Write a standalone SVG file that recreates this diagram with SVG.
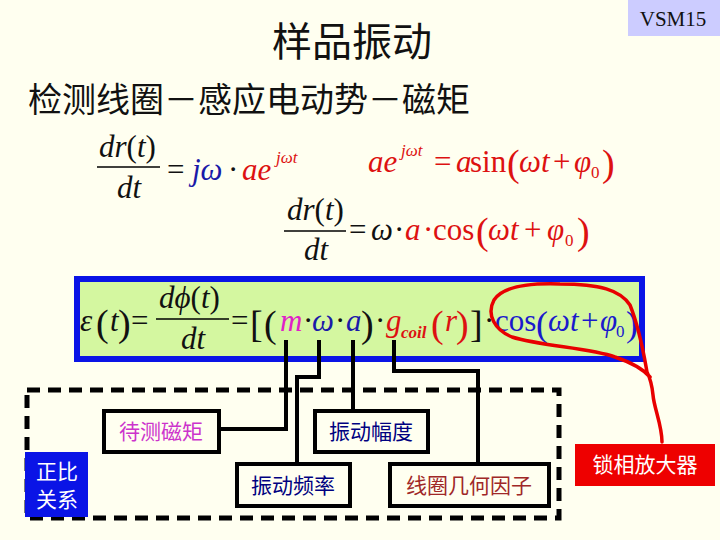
<svg xmlns="http://www.w3.org/2000/svg" width="720" height="540" viewBox="0 0 720 540">
<style>
.cn{font-family:"Noto Sans CJK SC","Noto Sans",sans-serif}
.m{font-family:"Liberation Serif","DejaVu Serif",serif;font-size:31px}
.i{font-style:italic}
.r{fill:#dd1111}
.b{fill:#1a1aa8}
.c{fill:#1a1acc}
.k{fill:#111}
.sup{font-size:17px}
.big{font-size:38px}
.box{fill:#fffff0;stroke:#000;stroke-width:4}
.lbl{font-family:"Noto Sans CJK SC",sans-serif;font-size:21px}
.wire{fill:none;stroke:#000;stroke-width:4}
.frac{stroke:#000;stroke-width:1.6}
</style>
<rect width="720" height="540" fill="#fffff0"/>
<g id="badge">
<rect x="628" y="0" width="92" height="36" fill="#ccccff"/>
<text x="673" y="26" text-anchor="middle" font-family="Liberation Serif,serif" font-size="21" fill="#111">VSM15</text>
</g>
<g id="title">
<text x="272" y="56" class="cn" font-size="40" fill="#111">样品振动</text>
<text x="28" y="112" class="cn" font-size="34" fill="#111">检测线圈－感应电动势－磁矩</text>
</g>
<g id="eq1" class="m">
<text x="99" y="157" class="k"><tspan class="i">dr</tspan>(<tspan class="i">t</tspan>)</text>
<line x1="97" y1="167" x2="160" y2="167" class="frac"/>
<text x="117" y="198" class="i k">dt</text>
<text x="167" y="180" class="k">=</text>
<text x="192" y="180" class="i b">jω</text>
<text x="228" y="180" class="k">·</text>
<text x="242" y="180" class="i r">ae</text>
<text x="276" y="163" class="i r sup">jωt</text>
</g>
<g id="eq2" class="m r">
<text x="368" y="172" class="i">ae</text>
<text x="401" y="156" class="i sup">jωt</text>
<text x="434" y="172">=</text>
<text x="456" y="172" class="i">a</text>
<text x="470" y="172">sin</text>
<text x="507" y="176" class="big">(</text>
<text x="519" y="172" class="i">ωt</text>
<text x="553" y="172">+</text>
<text x="574" y="172" class="i">φ</text>
<text x="591" y="178" class="sup">0</text>
<text x="602" y="176" class="big">)</text>
</g>
<g id="eq3" class="m">
<text x="287" y="220" class="k"><tspan class="i">dr</tspan>(<tspan class="i">t</tspan>)</text>
<line x1="284" y1="231" x2="346" y2="231" class="frac"/>
<text x="304" y="260" class="i k">dt</text>
<text x="349" y="240" class="k">=</text>
<text x="371" y="240" class="i k">ω</text>
<text x="394" y="240" class="k">·</text>
<text x="405" y="240" class="i r">a</text>
<text x="423" y="240" class="r">·</text>
<text x="433" y="240" class="r">cos</text>
<text x="476" y="244" class="r big">(</text>
<text x="488" y="240" class="i r">ωt</text>
<text x="524" y="240" class="r">+</text>
<text x="547" y="240" class="i r">φ</text>
<text x="565" y="246" class="r sup">0</text>
<text x="577" y="244" class="r big">)</text>
</g>
<g id="formula-box">
<rect x="77" y="279" width="565" height="80" fill="#d4f7a0" stroke="#0a14e6" stroke-width="6"/>
<g class="m">
<text x="80" y="331" class="i k">ε</text>
<text x="96" y="336" class="k big">(</text>
<text x="110" y="331" class="i k">t</text>
<text x="118" y="336" class="k big">)</text>
<text x="131" y="331" class="k">=</text>
<text x="159" y="308" class="k"><tspan class="i">dϕ</tspan>(<tspan class="i">t</tspan>)</text>
<line x1="156" y1="319" x2="229" y2="319" class="frac"/>
<text x="181" y="349" class="i k">dt</text>
<text x="231" y="331" class="k">=</text>
<text x="250" y="337" class="k big">[</text>
<text x="264" y="337" class="k big">(</text>
<text x="280" y="331" class="i" fill="#e020c8">m</text>
<text x="303" y="331" class="k">·</text>
<text x="312" y="331" class="i b">ω</text>
<text x="335" y="331" class="k">·</text>
<text x="346" y="331" class="i b">a</text>
<text x="361" y="337" class="k big">)</text>
<text x="375" y="331" class="k">·</text>
<text x="386" y="331" class="i r">g</text>
<text x="401" y="338" class="i r sup" font-weight="bold">coil</text>
<text x="431" y="337" class="r big">(</text>
<text x="445" y="331" class="i r">r</text>
<text x="456" y="337" class="r big">)</text>
<text x="470" y="337" class="k big">]</text>
<text x="484" y="331" class="k">·</text>
<text x="495" y="331" class="c">cos</text>
<text x="536" y="336" class="c" font-size="36">(</text>
<text x="548" y="331" class="i c">ωt</text>
<text x="581" y="331" class="c">+</text>
<text x="600" y="331" class="i c">φ</text>
<text x="616" y="337" class="c sup">0</text>
<text x="626" y="336" class="c" font-size="36">)</text>
</g>
</g>
<g id="group-frame">
<rect x="27" y="390" width="532" height="128" fill="none" stroke="#000" stroke-width="5" stroke-dasharray="13 8"/>
</g>
<g id="connectors">
<polyline class="wire" points="286,340 286,429 219,429"/>
<polyline class="wire" points="319,340 319,377 297,377 297,463"/>
<polyline class="wire" points="353,340 353,411"/>
<polyline class="wire" points="394,340 394,371 478,371 478,463"/>
<path d="M662,442 C662,425 654,408 653,395 C652,385 650,378 647,372 C644,355 640,330 630,305 C620,290 600,284 560,284 C530,283 503,286 494,300 C486,315 495,330 512,337 C540,346 590,348 615,357 C630,362 642,368 650,377" fill="none" stroke="#e80000" stroke-width="3.5" stroke-linecap="round" stroke-linejoin="round"/>
</g>
<g id="node-moment">
<rect x="104" y="411" width="115" height="41" class="box"/>
<text x="161" y="439" text-anchor="middle" class="lbl" fill="#cc33cc">待测磁矩</text>
</g>
<g id="node-amplitude">
<rect x="315" y="411" width="113" height="41" class="box"/>
<text x="371" y="439" text-anchor="middle" class="lbl" fill="#000080">振动幅度</text>
</g>
<g id="node-frequency">
<rect x="237" y="464" width="113" height="42" class="box"/>
<text x="293" y="493" text-anchor="middle" class="lbl" fill="#000080">振动频率</text>
</g>
<g id="node-coil">
<rect x="390" y="464" width="159" height="42" class="box"/>
<text x="469" y="493" text-anchor="middle" class="lbl" fill="#a02828">线圈几何因子</text>
</g>
<g id="node-proportional">
<rect x="25" y="452" width="63" height="65" fill="#0a14e6"/>
<text x="57" y="479" text-anchor="middle" class="lbl" fill="#fff">正比</text>
<text x="57" y="507" text-anchor="middle" class="lbl" fill="#fff">关系</text>
</g>
<g id="node-lockin">
<rect x="575" y="444" width="140" height="42" fill="#ee0000"/>
<text x="645" y="472" text-anchor="middle" class="lbl" fill="#fff">锁相放大器</text>
</g>
</svg>
